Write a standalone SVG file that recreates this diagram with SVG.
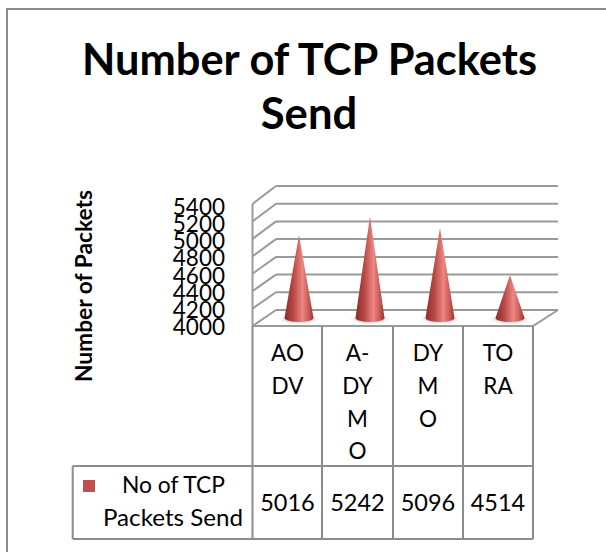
<svg xmlns="http://www.w3.org/2000/svg" width="606" height="552" viewBox="0 0 606 552">
<defs>
<linearGradient id="coneFill" x1="0" y1="0" x2="1" y2="0">
<stop offset="0" stop-color="#8a2c2a"/>
<stop offset="0.3" stop-color="#b84744"/>
<stop offset="0.62" stop-color="#ee8682"/>
<stop offset="0.85" stop-color="#c65653"/>
<stop offset="1" stop-color="#983331"/>
</linearGradient>
<radialGradient id="shadowFill" cx="0.5" cy="0.5" r="0.5">
<stop offset="0" stop-color="#b0b0b0" stop-opacity="0.8"/>
<stop offset="0.7" stop-color="#d8d8d8" stop-opacity="0.6"/>
<stop offset="1" stop-color="#ffffff" stop-opacity="0"/>
</radialGradient>
</defs>
<style>
.frame{stroke:#8c8c8c;stroke-width:2;fill:none}
.grid{stroke:#9a9a9a;stroke-width:2;fill:none}
.tbl{stroke:#8c8c8c;stroke-width:2;fill:none}
.title{font-family:Lato,"Liberation Sans",sans-serif;font-weight:bold;font-size:43.6px;fill:#000}
.ytitle{font-family:Lato,"Liberation Sans",sans-serif;font-weight:bold;font-size:23px;fill:#000}
.lbl{font-family:Lato,"Liberation Sans",sans-serif;font-size:22.5px;fill:#000}
.hdr{font-family:Lato,"Liberation Sans",sans-serif;font-size:22.5px;fill:#000}
.leg{font-family:Lato,"Liberation Sans",sans-serif;font-size:23px;fill:#000}
.val{font-family:Lato,"Liberation Sans",sans-serif;font-size:23.5px;fill:#000}
.cone{fill:url(#coneFill)}
.shadow{fill:url(#shadowFill)}
</style>
<rect x="0" y="0" width="606" height="552" fill="#ffffff"/>
<path class="frame" d="M7,552 V9 H606"/>

<g id="title">
<text class="title" x="309.5" y="75" text-anchor="middle" textLength="455" lengthAdjust="spacingAndGlyphs">Number of TCP Packets</text>
<text class="title" x="309" y="129" text-anchor="middle">Send</text>
</g>

<g id="y-axis-title">
<text class="ytitle" transform="translate(92,286) rotate(-90)" text-anchor="middle" textLength="192" lengthAdjust="spacingAndGlyphs">Number of Packets</text>
</g>

<g id="y-axis-labels" text-anchor="end">
<text class="lbl" x="225" y="215">5400</text>
<text class="lbl" x="225" y="232.1">5200</text>
<text class="lbl" x="225" y="249.3">5000</text>
<text class="lbl" x="225" y="266.4">4800</text>
<text class="lbl" x="225" y="283.6">4600</text>
<text class="lbl" x="225" y="300.7">4400</text>
<text class="lbl" x="225" y="317.9">4200</text>
<text class="lbl" x="225" y="335">4000</text>
</g>

<g id="plot-walls">
<path class="grid" d="M276,186 H558 M276,203.7 H558 M276,221.4 H558 M276,239.1 H558 M276,256.9 H558 M276,274.6 H558 M276,292.3 H558 M276,310 H558"/>
<path class="grid" d="M252.5,204 L276,186 M252.5,221.4 L276,203.7 M252.5,238.9 L276,221.4 M252.5,256.3 L276,239.1 M252.5,273.7 L276,256.9 M252.5,291.1 L276,274.6 M252.5,308.6 L276,292.3 M252.5,326 L276,310"/>
<path class="grid" d="M252.5,204 V326 H533 L558,310"/>
</g>

<g id="cone-aodv">
<ellipse class="shadow" cx="299" cy="319" rx="22" ry="6"/>
<path class="cone" d="M284.5,318 L299,235 L313.5,318 A14.5,4 0 0 1 284.5,318 Z"/>
</g>
<g id="cone-a-dymo">
<ellipse class="shadow" cx="370" cy="319" rx="22" ry="6"/>
<path class="cone" d="M355.5,318 L370,216.5 L384.5,318 A14.5,4 0 0 1 355.5,318 Z"/>
</g>
<g id="cone-dymo">
<ellipse class="shadow" cx="440" cy="319" rx="22" ry="6"/>
<path class="cone" d="M425.5,318 L440,228 L454.5,318 A14.5,4 0 0 1 425.5,318 Z"/>
</g>
<g id="cone-tora">
<ellipse class="shadow" cx="510" cy="319" rx="22" ry="6"/>
<path class="cone" d="M495.5,318 L510,275 L524.5,318 A14.5,4 0 0 1 495.5,318 Z"/>
</g>

<g id="data-table">
<path class="tbl" d="M252.5,326 V539 M322,326 V539 M393,326 V539 M463,326 V539 M533,326 V539 M72.7,466 H533 M72.7,539 H533 M72.7,466 V539"/>
<g text-anchor="middle">
<text class="hdr" x="287.5" y="361">AO</text>
<text class="hdr" x="287.5" y="394">DV</text>
<text class="hdr" x="357.5" y="361">A-</text>
<text class="hdr" x="357.5" y="394">DY</text>
<text class="hdr" x="357.5" y="427">M</text>
<text class="hdr" x="357.5" y="459">O</text>
<text class="hdr" x="428" y="361">DY</text>
<text class="hdr" x="428" y="394">M</text>
<text class="hdr" x="428" y="427">O</text>
<text class="hdr" x="498" y="361">TO</text>
<text class="hdr" x="498" y="394">RA</text>
<text class="val" x="287.5" y="511">5016</text>
<text class="val" x="357.5" y="511">5242</text>
<text class="val" x="428" y="511">5096</text>
<text class="val" x="498" y="511">4514</text>
<text class="leg" x="173.5" y="493" textLength="103" lengthAdjust="spacingAndGlyphs">No of TCP</text>
<text class="leg" x="173" y="526" textLength="140" lengthAdjust="spacingAndGlyphs">Packets Send</text>
</g>
<rect x="83" y="480" width="12" height="12" fill="#c0504d"/>
</g>
</svg>
